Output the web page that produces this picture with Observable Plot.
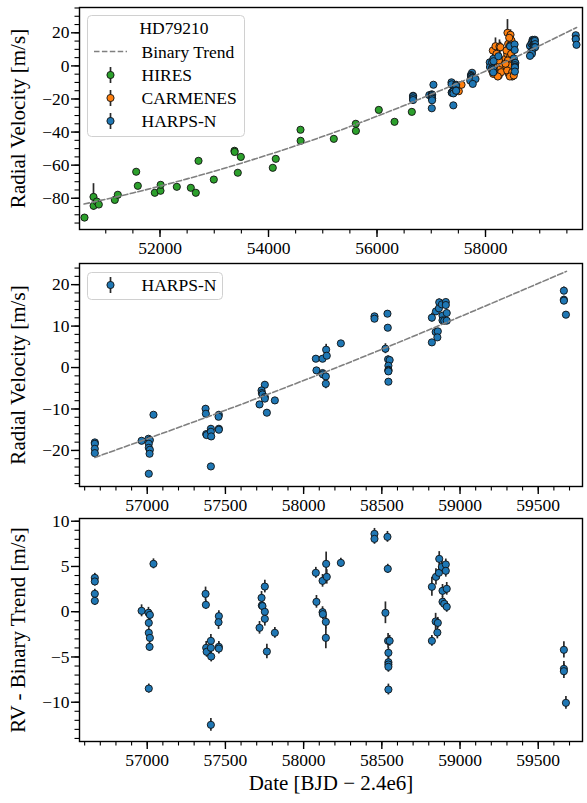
<!DOCTYPE html>
<html><head><meta charset="utf-8">
<script src="https://cdn.jsdelivr.net/npm/d3@7"></script>
<script src="https://cdn.jsdelivr.net/npm/@observablehq/plot@0.6"></script>
<style>
body{margin:0;background:#fff;}
#wrap{position:relative;width:587px;height:803px;font-family:"Liberation Serif",serif;}
#wrap svg{display:block;}
</style></head><body><div id="wrap"></div>
<script>
// ---------------- data ----------------
const hiresT = [50608,50774,50776,50835,50872,51167,51222,51561,51591,51904,52009,52012,52310,52568,52660,52710,52992,53373,53376,53434,53490,54079,54134,54590,54592,55204,55609,55611,56033,56323,56642];
const hiresRV = [-91.7,-79.2,-84.6,-82.0,-83.8,-81.0,-77.9,-64.0,-72.5,-76.7,-75.5,-71.9,-73.1,-73.7,-76.7,-57.4,-68.7,-51.3,-52.0,-64.6,-55.0,-61.6,-56.2,-38.6,-45.3,-44.1,-35.0,-39.3,-26.6,-33.8,-27.8];
const hiresErr = [1.5,8,1.5,1.5,1.5,1.5,1.5,1.5,1.5,1.5,1.5,1.5,1.5,1.5,1.5,1.5,1.5,1.5,1.5,1.5,1.5,1.5,1.5,1.5,1.5,1.5,1.5,1.5,1.5,1.5,1.5];

const carmT = [57508,57558,58110,58135,58142,58153,58184,58184,58215,58227,58245,58258,58276,58308,
  58369,58387,58400,58405,58418,58429,58429,58449,58461,58461,58461,58473,58479,58492,58492,58510,58522,
  58203,58110,58245,58289,58153,58227,58276,58120,
  58437,58492,58387,58473,58412,58510,58449,58400,58492,58449,58522,58369];
const carmRV = [-15.3,-11.4,0.2,9.3,-4.8,3.7,11.9,-3.8,1.3,6.3,-5.8,11.7,-1.8,1.3,
  4.3,-0.8,7.3,20.0,13.3,1.3,-4.8,5.2,18.8,10.3,-2.8,3.3,15.3,0.2,-6.4,-3.8,-0.8,
  7.3,2.2,3.3,-3.8,-0.8,-6.4,11.3,-2.8,
  17.0,12.3,9.3,7.3,3.3,2.2,0.2,-2.8,-3.8,-6.4,-5.8,1.3];
const carmErr = [2,2,2.5,3,2.5,2.5,5,2.5,2.5,2.5,2.5,4,2.5,2.5,
  2.5,2.5,3,8,3,2.5,2.5,2.5,3,3,2.5,2.5,3,2.5,2.5,2.5,2.5,
  2.5,2.5,2.5,2.5,2.5,2.5,3,2.5,
  3,2.5,2.5,2.5,2.5,2.5,2.5,2.5,2.5,2.5,2.5,2.5];

const harpsT = [56665,56665,56665,56665,
  56964,57008,57017,57010,57010,57017,57015,57010,57040,
  57373,57375,57377,57380,57407,57407,57409,57407,57458,57456,57458,57458,
  57752,57731,57733,57737,57752,57752,57718,57816,57765,
  58078,58082,58121,58144,58148,58121,58123,58142,58142,58238,
  58453,58453,58536,58538,58523,58540,58550,58542,58542,58542,58542,58542,
  58820,58846,58867,58865,58884,58909,58909,58888,58915,58888,58899,58915,58844,58858,58855,58820,
  59664,59664,59664,59677];
const harpsRV = [-18.07,-18.4,-19.6,-20.65,
  -17.67,-17.18,-17.5,-18.39,-19.36,-19.84,-20.8,-25.63,-11.39,
  -9.94,-11.15,-16.06,-16.3,-14.77,-15.5,-16.62,-23.86,-11.39,-11.87,-14.77,-15.0,
  -4.15,-5.52,-6.16,-6.48,-7.13,-7.5,-8.9,-7.93,-10.9,
  2.13,-0.69,2.13,4.3,2.85,-1.33,-1.65,-2.14,-3.91,5.83,
  12.35,11.78,12.99,9.61,4.54,1.97,1.8,0.44,-0.53,-0.75,-0.93,-3.42,
  12.03,13.55,15.73,14.28,15.24,15.81,15.08,12.51,13.15,11.38,11.3,11.3,8.57,8.73,7.28,6.07,
  18.54,16.37,16.13,12.75];
const harpsRes = [3.74,3.34,1.98,1.2,
  0.1,-0.12,-0.35,-1.23,-2.33,-2.89,-3.88,-8.49,5.29,
  1.97,0.76,-3.99,-4.43,-3.22,-3.99,-4.95,-12.5,-0.49,-1.16,-3.88,-4.07,
  2.78,1.53,0.69,0.62,-0.01,-0.79,-1.78,-2.33,-4.4,
  4.3,1.09,3.41,5.29,3.85,-0.05,-0.27,-1.12,-2.89,5.4,
  8.6,8.05,8.27,4.74,-0.12,-3.22,-3.22,-4.54,-5.58,-5.83,-6.09,-8.6,
  2.75,3.85,5.84,4.3,4.96,5.22,4.52,2.31,2.53,1.09,0.87,0.54,-1.08,-1.23,-2.3,-3.22,
  -4.21,-6.31,-6.57,-10.07];
const harpsErr = [0.5,0.5,0.5,0.5,
  0.66,0.6,0.6,0.6,0.5,0.5,0.5,0.5,0.55,
  0.75,0.5,0.7,0.6,0.7,0.6,0.6,0.7,0.6,0.8,0.6,0.6,
  0.7,0.7,0.6,0.6,0.6,0.8,0.7,0.6,0.8,
  0.6,0.7,0.7,1.3,0.8,0.6,0.6,0.8,1.2,0.5,
  0.6,0.6,0.6,0.5,1.2,0.8,0.6,0.6,0.6,0.6,0.6,0.6,
  1.05,0.9,0.8,0.7,0.7,0.6,0.7,0.7,0.7,0.6,0.6,0.6,0.9,0.6,0.7,0.6,
  0.9,0.8,0.8,0.7];

const trendT = [50600,51500,52500,53500,54500,55500,56500,56665,57500,58500,59680];
const trendV = [-83.5,-76.8,-68.3,-58.8,-48.3,-36.7,-24.0,-21.7,-10.3,4.4,23.2];

const seriesNames = ["HIRES","CARMENES","HARPS-N"];
const seriesColors = ["#2ca02c","#ff7f0e","#1f77b4"];
const legendTitle = "HD79210";
const trendName = "Binary Trend";

const p1XMajor = [52000,54000,56000,58000];
const p1YMajor = [-80,-60,-40,-20,0,20];
const p2XMajor = [57000,57500,58000,58500,59000,59500];
const p2YMajor = [-20,-10,0,10,20];
const p3YMajor = [-10,-5,0,5,10];

// --------------- build ----------------
const rows = (T, V, E) => T.map((t,i)=>({t, v:V[i], e:E[i]}));
const hires = rows(hiresT, hiresRV, hiresErr);
const carm = rows(carmT, carmRV, carmErr);
const harps = rows(harpsT, harpsRV, harpsErr);
const harpsR = rows(harpsT, harpsRes, harpsErr);
const trend = trendT.map((t,i)=>({t, v:trendV[i]}));
const trend2 = trend.filter(d => d.t >= 56665);

const FONT = '"Liberation Serif", "Times New Roman", serif';
const fmt = d3.format("d");
const range = (a,b,s) => d3.range(a, b + s/2, s);

function series(data, color) {
  return [
    Plot.ruleX(data, {x:"t", y1:d=>d.v-d.e, y2:d=>d.v+d.e, stroke:"#2a2a2a", strokeWidth:1.7}),
    Plot.dot(data, {x:"t", y:"v", r:3.6, fill:color, stroke:"#111", strokeWidth:0.9})
  ];
}

function panel(o) {
  return Plot.plot({
    width: 587, height: o.height,
    marginLeft: 79, marginRight: 5, marginTop: o.mt, marginBottom: o.mb,
    style: {fontFamily: FONT, fontSize: "17.5px", color: "#000", background: "#fff", overflow: "visible"},
    x: {domain: o.xd, axis: null},
    y: {domain: o.yd, axis: null},
    marks: [
      Plot.axisX({ticks: o.xMinor, tickSize: 4.5, tickFormat: () => "", strokeWidth: 1.1, label: null}),
      Plot.axisX({ticks: o.xMajor, tickSize: 8, tickPadding: 4, tickFormat: fmt, strokeWidth: 1.4, fontSize: 17.5, label: null}),
      Plot.axisY({ticks: o.yMinor, tickSize: 4.5, tickFormat: () => "", strokeWidth: 1.1, label: null}),
      Plot.axisY({ticks: o.yMajor, tickSize: 8, tickPadding: 2, tickFormat: fmt, strokeWidth: 1.4, fontSize: 17.5, label: null}),
      Plot.text([o.yLabel], {text: d => d, frameAnchor: "left", textAnchor: "middle", lineAnchor: "middle", rotate: -90, dx: -61, fontSize: 21}),
      o.xLabel ? Plot.text([o.xLabel], {text: d => d, frameAnchor: "bottom", textAnchor: "middle", lineAnchor: "middle", dy: 42, fontSize: 21}) : null,
      ...o.marks,
      Plot.frame({stroke: "#000", strokeWidth: 1.4})
    ]
  });
}

const wrap = document.getElementById("wrap");

wrap.appendChild(panel({
  height: 259, mt: 7, mb: 30,
  xd: [50516, 59788], yd: [-98.9, 35.3],
  xMajor: p1XMajor, xMinor: range(50500, 59500, 500).filter(d => d >= 50516),
  yMajor: p1YMajor, yMinor: range(-95, 35, 5),
  yLabel: "Radial Velocity [m/s]",
  marks: [
    ...series(hires, seriesColors[0]),
    ...series(carm, seriesColors[1]),
    ...series(harps, seriesColors[2]),
    Plot.line(trend, {x:"t", y:"v", stroke:"#808080", strokeWidth:1.6, strokeDasharray:"5.5,2.4", curve:"natural"})
  ]
}));

wrap.appendChild(panel({
  height: 255, mt: 4, mb: 28,
  xd: [56567, 59783], yd: [-28.7, 25.1],
  xMajor: p2XMajor, xMinor: range(56600, 59700, 100),
  yMajor: p2YMajor, yMinor: range(-28, 24, 2),
  yLabel: "Radial Velocity [m/s]",
  marks: [
    ...series(harps, seriesColors[2]),
    Plot.line(trend2, {x:"t", y:"v", stroke:"#808080", strokeWidth:1.6, strokeDasharray:"5.5,2.4", curve:"natural"})
  ]
}));

wrap.appendChild(panel({
  height: 289, mt: 4, mb: 62,
  xd: [56567, 59783], yd: [-14.34, 10.3],
  xMajor: p2XMajor, xMinor: range(56600, 59700, 100),
  yMajor: p3YMajor, yMinor: range(-14, 10, 1),
  yLabel: "RV - Binary Trend [m/s]",
  xLabel: "Date [BJD \u2212 2.4e6]",
  marks: [ ...series(harpsR, seriesColors[2]) ]
}));

// --------------- legends (overlay) ---------------
const ov = d3.select(wrap).append("svg")
  .attr("width", 587).attr("height", 803)
  .style("position","absolute").style("left","0px").style("top","0px")
  .style("font-family", FONT).style("font-size","17.5px");

function box(x, y, w, h) {
  ov.append("rect").attr("x", x+0.5).attr("y", y+0.5).attr("width", w).attr("height", h)
    .attr("rx", 4).attr("fill", "rgba(255,255,255,0.85)").attr("stroke", "#d0d0d0").attr("stroke-width", 1);
}
function marker(cx, cy, color) {
  ov.append("line").attr("x1", cx).attr("x2", cx).attr("y1", cy-8).attr("y2", cy+8).attr("stroke", "#2a2a2a").attr("stroke-width", 1.7);
  ov.append("circle").attr("cx", cx).attr("cy", cy).attr("r", 3.6).attr("fill", color).attr("stroke", "#111").attr("stroke-width", 0.9);
}
function label(x, y, t, anchor="start") {
  ov.append("text").attr("x", x).attr("y", y).attr("dy", "0.35em").attr("text-anchor", anchor).attr("fill", "#000").text(t);
}
box(87, 15, 157, 121);
label(174, 28, legendTitle, "middle");
ov.append("line").attr("x1", 94).attr("x2", 127).attr("y1", 51.5).attr("y2", 51.5)
  .attr("stroke", "#808080").attr("stroke-width", 1.6).attr("stroke-dasharray", "5.5,2.4");
label(141.5, 51.5, trendName);
[75, 98, 121].forEach((y, i) => { marker(110.5, y, seriesColors[i]); label(141.5, y, seriesNames[i]); });
box(87, 272, 135, 27);
marker(110.5, 285, seriesColors[2]);
label(141.5, 285, seriesNames[2]);
</script></body></html>
